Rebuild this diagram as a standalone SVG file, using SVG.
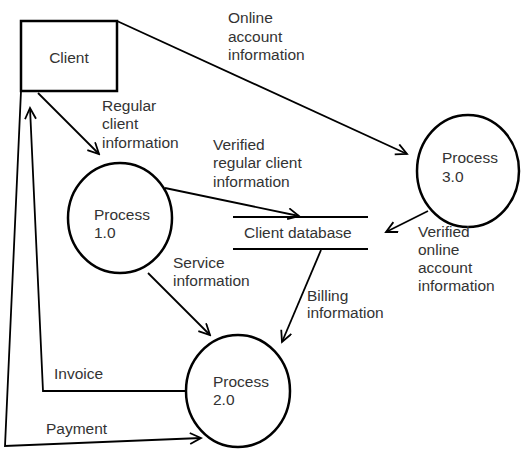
<svg xmlns="http://www.w3.org/2000/svg" width="526" height="457" viewBox="0 0 526 457">
<style>
text{font-family:"Liberation Sans",Arial,sans-serif;font-size:15.5px;fill:#333}
.n{fill:none;stroke:#000;stroke-width:2.5}
.c{fill:none;stroke:#000;stroke-width:1.8}
</style>
<defs>
<marker id="a" markerWidth="14" markerHeight="14" refX="12" refY="6" orient="auto" markerUnits="userSpaceOnUse">
<path d="M1,0.5 L12,6 L1,11.5" fill="none" stroke="#000" stroke-width="1.8"/>
</marker>
</defs>
<rect width="526" height="457" fill="#fff"/>
<g id="connectors">
<line class="c" x1="117" y1="21" x2="407" y2="154" marker-end="url(#a)"/>
<line class="c" x1="38" y1="93" x2="99" y2="154" marker-end="url(#a)"/>
<line class="c" x1="165" y1="188" x2="299" y2="216" marker-end="url(#a)"/>
<line class="c" x1="428" y1="211" x2="386" y2="232" marker-end="url(#a)"/>
<line class="c" x1="148" y1="273" x2="210" y2="335" marker-end="url(#a)"/>
<line class="c" x1="321" y1="250" x2="282" y2="342" marker-end="url(#a)"/>
<polyline class="c" points="186,391 43,391 30,108" marker-end="url(#a)"/>
<polyline class="c" points="21,91 5,446 201,438" marker-end="url(#a)"/>
</g>
<g id="client">
<rect class="n" x="21" y="21" width="96" height="70"/>
<text x="69" y="63" text-anchor="middle">Client</text>
</g>
<g id="process1">
<ellipse class="n" cx="120" cy="218" rx="52" ry="55"/>
<text x="94" y="220">Process</text>
<text x="94" y="238">1.0</text>
</g>
<g id="process2">
<ellipse class="n" cx="238" cy="391" rx="52" ry="56"/>
<text x="213" y="387">Process</text>
<text x="213" y="405">2.0</text>
</g>
<g id="process3">
<ellipse class="n" cx="468" cy="171" rx="51" ry="56"/>
<text x="442" y="163">Process</text>
<text x="442" y="182">3.0</text>
</g>
<g id="database">
<line class="c" x1="233" y1="217" x2="368" y2="217"/>
<line class="c" x1="233" y1="249" x2="368" y2="249"/>
<text x="244" y="238">Client database</text>
</g>
<g id="labels">
<text x="228" y="23">Online</text>
<text x="228" y="42">account</text>
<text x="228" y="60">information</text>
<text x="102" y="111">Regular</text>
<text x="102" y="129">client</text>
<text x="102" y="148">information</text>
<text x="213" y="150">Verified</text>
<text x="213" y="168">regular client</text>
<text x="213" y="187">information</text>
<text x="418" y="237">Verified</text>
<text x="418" y="255">online</text>
<text x="418" y="273">account</text>
<text x="418" y="291">information</text>
<text x="173" y="268">Service</text>
<text x="173" y="286">information</text>
<text x="307" y="301">Billing</text>
<text x="307" y="318">information</text>
<text x="54" y="379">Invoice</text>
<text x="46" y="434">Payment</text>
</g>
</svg>
